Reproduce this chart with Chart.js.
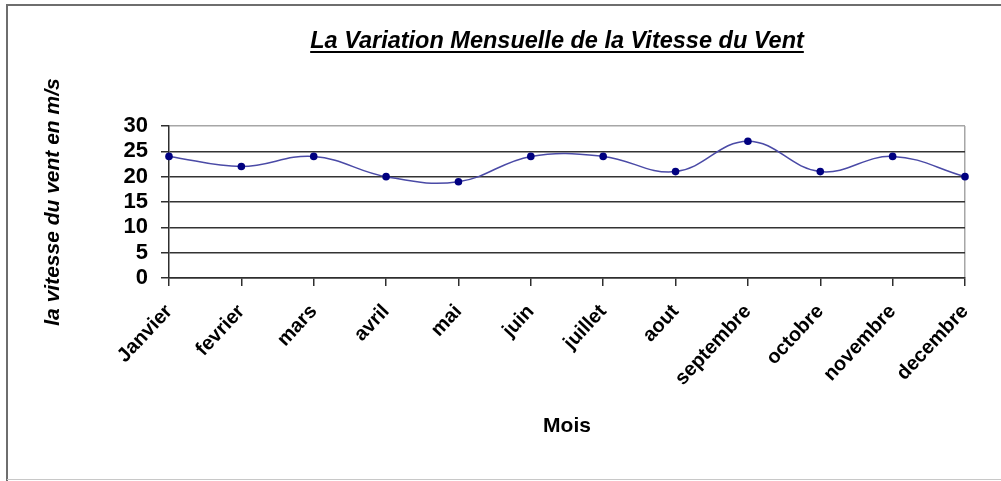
<!DOCTYPE html>
<html lang="fr">
<head>
<meta charset="utf-8">
<title>La Variation Mensuelle de la Vitesse du Vent</title>
<script src="https://cdn.jsdelivr.net/npm/chart.js@4.4.1/dist/chart.umd.min.js"></script>
<style>
  html, body { margin: 0; padding: 0; background: #ffffff; }
  #wrap { position: relative; width: 1001px; height: 481px; }
</style>
</head>
<body>
<div id="wrap"><canvas id="c" width="1001" height="481"></canvas></div>
<script>
// Monthly wind speed (m/s)
const months = ['Janvier', 'fevrier', 'mars', 'avril', 'mai', 'juin',
                'juillet', 'aout', 'septembre', 'octobre', 'novembre', 'decembre'];
const windSpeed = [24, 22, 24, 20, 19, 24, 24, 21, 27, 21, 24, 20];

const chartTitle = 'La Variation Mensuelle de la Vitesse du Vent';
const yAxisTitle = 'la vitesse du vent en m/s';
const xAxisTitle = 'Mois';
const yMin = 0, yMax = 30, yStep = 5;

const FONT = "'Liberation Sans', Arial, Helvetica, sans-serif";

// Frame around the whole figure
const framePlugin = {
  id: 'frame',
  beforeDraw(chart) {
    const ctx = chart.ctx;
    ctx.save();
    ctx.fillStyle = '#ffffff';
    ctx.fillRect(0, 0, chart.width, chart.height);
    ctx.strokeStyle = '#6e6e6e';
    ctx.lineWidth = 2;
    ctx.beginPath();
    ctx.moveTo(7, chart.height);
    ctx.lineTo(7, 5);
    ctx.lineTo(chart.width, 5);
    ctx.stroke();
    ctx.strokeStyle = '#c8c8c8';
    ctx.lineWidth = 1;
    ctx.beginPath();
    ctx.moveTo(7, chart.height - 1.5);
    ctx.lineTo(chart.width, chart.height - 1.5);
    ctx.stroke();
    ctx.restore();
  }
};

// Underlined bold-italic heading
const headingPlugin = {
  id: 'heading',
  afterDraw(chart, args, opts) {
    const ctx = chart.ctx;
    ctx.save();
    ctx.font = 'italic bold 23.5px ' + FONT;
    ctx.fillStyle = '#000000';
    ctx.textAlign = 'center';
    ctx.textBaseline = 'alphabetic';
    const x = opts.x, y = opts.y;
    ctx.fillText(opts.text, x, y);
    const w = ctx.measureText(opts.text).width;
    ctx.fillRect(x - w / 2, y + 3, w, 2);
    ctx.restore();
  }
};

new Chart(document.getElementById('c'), {
  type: 'line',
  data: {
    labels: months,
    datasets: [{
      data: windSpeed,
      borderColor: '#4a4aa6',
      borderWidth: 1.5,
      tension: 0.4,
      pointRadius: 3.8,
      pointBackgroundColor: '#000080',
      pointBorderColor: '#000080',
      pointBorderWidth: 0,
      fill: false,
      clip: false
    }]
  },
  plugins: [framePlugin, headingPlugin],
  options: {
    responsive: false,
    animation: false,
    devicePixelRatio: 1,
    layout: { padding: { top: 126, left: 41, right: 36, bottom: 42 } },
    plugins: {
      legend: { display: false },
      tooltip: { enabled: false },
      title: { display: false },
      heading: { text: chartTitle, x: 557, y: 48 }
    },
    scales: {
      x: {
        type: 'category',
        offset: false,
        afterFit(scale) { scale.height = 161; },
        border: { display: true, color: '#2e2e2e', width: 1.5 },
        grid: {
          display: true,
          drawOnChartArea: true,
          color: (c) => (c.index === months.length - 1 ? '#a6a6a6' : 'rgba(0,0,0,0)'),
          tickColor: '#2e2e2e',
          tickLength: 8,
          lineWidth: 1.5
        },
        ticks: {
          autoSkip: false,
          minRotation: 47,
          maxRotation: 47,
          padding: 14,
          color: '#000000',
          font: { family: FONT, size: 20, weight: 'bold' }
        },
        title: {
          display: true,
          text: xAxisTitle,
          color: '#000000',
          padding: { top: 0, bottom: 0 },
          font: { family: FONT, size: 21, weight: 'bold' }
        }
      },
      y: {
        min: yMin,
        max: yMax,
        afterFit(scale) { scale.width = 128; },
        border: { display: true, color: '#2e2e2e', width: 1.5 },
        grid: {
          color: (c) => (c.tick && c.tick.value === yMax ? '#a6a6a6' : '#333333'),
          tickColor: '#2e2e2e',
          tickLength: 8,
          lineWidth: 1.5
        },
        ticks: {
          stepSize: yStep,
          autoSkip: false,
          padding: 13,
          color: '#000000',
          font: { family: FONT, size: 22, weight: 'bold' }
        },
        title: {
          display: true,
          text: yAxisTitle,
          color: '#000000',
          padding: { top: 0, bottom: 0 },
          font: { family: FONT, size: 21, weight: 'bold', style: 'italic' }
        }
      }
    }
  }
});
</script>
</body>
</html>
